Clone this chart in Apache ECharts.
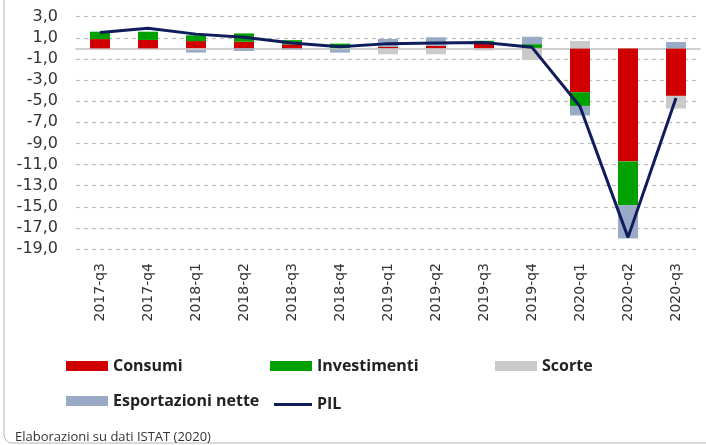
<!DOCTYPE html>
<html>
<head>
<meta charset="utf-8">
<script src="https://cdn.jsdelivr.net/npm/echarts@6/dist/echarts.min.js"></script>
<style>
html,body{margin:0;padding:0;background:#fff;}
#chart{width:706px;height:445px;}
</style>
</head>
<body>
<div id="chart"></div>
<script>
var categories = ['2017-q3','2017-q4','2018-q1','2018-q2','2018-q3','2018-q4','2019-q1','2019-q2','2019-q3','2019-q4','2020-q1','2020-q2','2020-q3'];
var consumi = [0.88, 0.8, 0.69, 0.63, 0.38, 0.0, 0.15, 0.25, 0.47, 0.05, -4.15, -10.7, -4.5];
var investimenti = [0.7, 0.78, 0.55, 0.79, 0.4, 0.45, 0.0, 0.0, 0.25, 0.35, -1.3, -4.15, 0.0];
var scorte = [0, 0, -0.15, 0, 0, -0.1, -0.55, -0.55, -0.2, -1.1, 0.7, 0, -1.2];
var esportazioni = [0, 0, -0.25, -0.25, -0.1, -0.3, 0.75, 0.8, 0, 0.7, -0.9, -3.15, 0.6];
var pil = [1.5, 1.9, 1.35, 1.05, 0.5, 0.15, 0.45, 0.5, 0.55, 0.1, -5.5, -17.9, -4.7];
var yMin = -19, yMax = 3, yStep = 2;
var sourceText = 'Elaborazioni su dati ISTAT (2020)';

var colors = {c:'#d00000', i:'#00a000', s:'#cacaca', e:'#98aac6', p:'#0f1d5c'};
var legendText = {fontFamily:'Open Sans', fontWeight:'bold', fontSize:16, color:'#222'};

function bar(name, data, color){
  return {name:name, type:'bar', stack:'tot', data:data, barWidth:20,
    itemStyle:{color:color}, emphasis:{disabled:true}};
}
function leg(name, left, top, w, h){
  return {data:[{name:name, icon:'rect'}], left:left, top:top, itemWidth:w||42, itemHeight:h||10, itemGap:4,
    textStyle:legendText, selectedMode:false, padding:0};
}

var chart = echarts.init(document.getElementById('chart'), null, {renderer:'canvas'});
chart.setOption({
  animation:false,
  backgroundColor:'#fff',
  textStyle:{fontFamily:'DejaVu Sans'},
  grid:{left:76, right:6, top:16.7, bottom:196},
  xAxis:{type:'category', data:categories,
    axisLine:{show:true, onZero:true, lineStyle:{color:'#c0c0c0', width:1.5}},
    axisTick:{show:false},
    axisLabel:{rotate:90, fontSize:14, color:'#333', margin:14, fontFamily:'DejaVu Sans', interval:0}},
  yAxis:{type:'value', min:yMin, max:yMax, interval:yStep,
    axisLine:{show:false}, axisTick:{show:false},
    axisLabel:{fontSize:16, color:'#333', margin:18, fontFamily:'DejaVu Sans',
      formatter:function(v){return v.toFixed(1).replace('.', ',');}},
    splitLine:{lineStyle:{color:'#bdbdbd', type:[4,4], width:1.2}}},
  legend:[
    leg('Consumi', 66, 358),
    leg('Investimenti', 270, 358),
    leg('Scorte', 495, 358),
    leg('Esportazioni nette', 66, 393),
    leg('PIL', 274, 396.5, 38, 3)
  ],
  title:{text:sourceText, left:10, top:426,
    textStyle:{fontFamily:'Open Sans', fontWeight:'normal', fontSize:13, color:'#333'}},
  graphic:[{type:'rect', shape:{x:4, y:-20, width:760, height:463, r:8}, silent:true,
    style:{fill:'none', stroke:'#b5b5b5', lineWidth:1}}],
  series:[
    bar('Consumi', consumi, colors.c),
    bar('Investimenti', investimenti, colors.i),
    bar('Scorte', scorte, colors.s),
    bar('Esportazioni nette', esportazioni, colors.e),
    {name:'PIL', type:'line', data:pil, symbol:'none', showSymbol:false,
      lineStyle:{color:colors.p, width:3}, itemStyle:{color:colors.p}, z:5,
      emphasis:{disabled:true}}
  ]
});
</script>
</body>
</html>
